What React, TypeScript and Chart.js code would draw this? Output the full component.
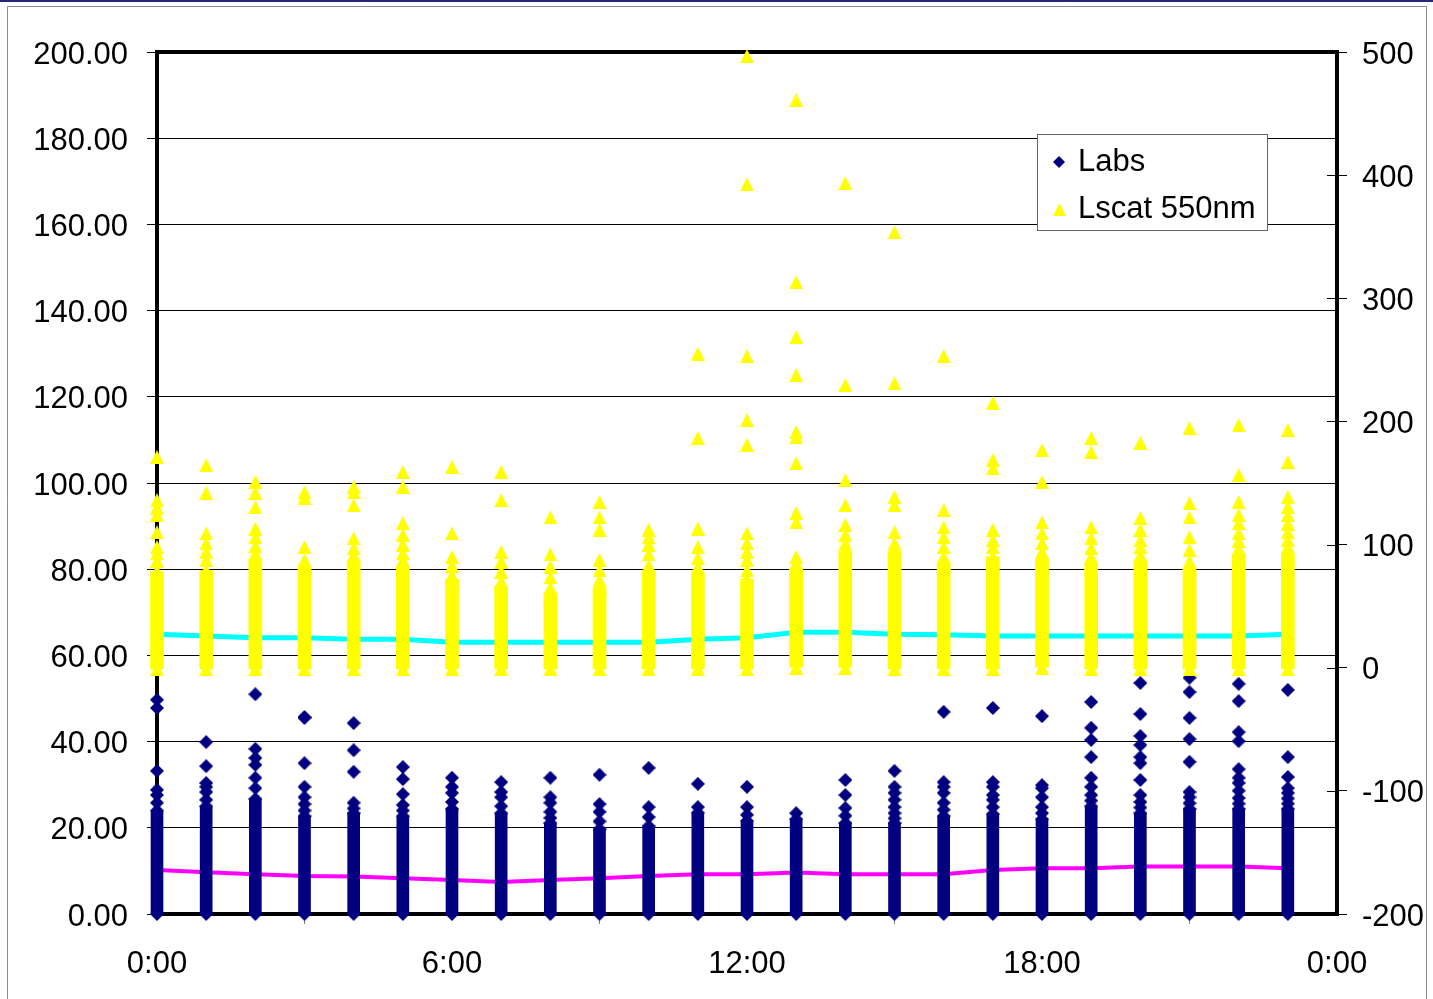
import React, { useEffect, useRef } from 'react';
import { Chart, registerables } from 'chart.js';

Chart.register(...registerables);

// ---------- data ----------
const hours = [0, 1, 2, 3, 4, 5, 6, 7, 8, 9, 10, 11, 12, 13, 14, 15, 16, 17, 18, 19, 20, 21, 22, 23];
const xTickLabels = ['0:00', '6:00', '12:00', '18:00', '0:00'];
const seriesNames = ['Labs', 'Lscat 550nm'];

// Labs (left axis): solid band of overlapping points (bottom/top) + distinct points
const labsBandBottom = [0, 0, 0, 0, 0, 0, 0, 0, 0, 0, 0, 0, 0, 0, 0, 0, 0, 0, 0, 0, 0, 0, 0, 0];
const labsBandTop = [24, 25, 26.7, 22.7, 23.4, 22.7, 24.4, 23.4, 21.1, 19.7, 20.4, 23.5, 21.6, 22, 21.1, 21.1, 22.7, 23.2, 22, 25, 23.4, 24.4, 24.4, 24.4];
const labsPoints = [
  [0, 49.7, 47.8, 33.2, 28.8, 27.6, 25.8, 24],
  [0, 39.9, 34.3, 30.4, 29.5, 28.3, 26.5, 25],
  [0, 51, 38.3, 36.2, 34.6, 31.6, 29.2, 26.7],
  [0, 45.7, 45.5, 35, 29.5, 27.1, 25.5, 24, 22.7],
  [0, 44.3, 38, 33, 25.8, 24.5, 23.4],
  [0, 34.1, 31.3, 27.8, 25.3, 24, 22.7],
  [0, 31.6, 29.5, 28.1, 26, 24.4],
  [0, 30.6, 28.3, 27.1, 25, 23.4],
  [0, 31.6, 27.1, 25.8, 23.7, 22.3, 21.1],
  [0, 32.3, 25.5, 23.7, 21.5, 19.7],
  [0, 33.9, 24.8, 22.5, 20.4],
  [0, 30.2, 24.8, 23.5],
  [0, 29.5, 24.8, 23, 21.6],
  [0, 23.4, 22],
  [0, 31.1, 27.6, 24.6, 22.8, 21.1],
  [0, 33.2, 29.5, 28.1, 26.5, 24.8, 23.4, 22.2, 21.1],
  [0, 46.9, 30.6, 29.5, 28.1, 25.8, 24.2, 22.7],
  [0, 47.8, 30.6, 29.5, 27.6, 26.5, 24.8, 23.2],
  [0, 45.9, 29.9, 29.2, 27.1, 24.8, 23.4, 22],
  [0, 49.2, 43.2, 40.4, 36.4, 31.6, 29.5, 27.6, 26.3, 25],
  [0, 53.6, 46.4, 41.3, 39.2, 36.4, 35, 31.1, 27.6, 26, 24.7, 23.4],
  [0, 54.8, 51.5, 45.5, 40.6, 35.3, 28.3, 27.1, 25.7, 24.4],
  [0, 53.4, 49.4, 42.2, 40.1, 33.6, 31.6, 30.4, 28.6, 26.9, 25.6, 24.4],
  [0, 52, 36.4, 31.8, 29.2, 28.1, 26.8, 25.6, 24.4],
];

// Lscat 550nm (right axis)
const lscatBandBottom = [-1, -1, -1, -1, -1, -1, -1, -1, -1, -1, -1, -1, -1, 0, 0, -1, -1, -1, 0, -1, -1, -1, -1, -1];
const lscatBandTop = [78, 79, 88, 82, 86, 82, 72, 66, 60, 65, 78, 76, 72, 80, 95, 95, 85, 90, 88, 85, 86, 80, 92, 92];
const lscatPoints = [
  [-1, 171, 136, 130, 124, 110, 98, 93, 87, 78],
  [-1, 164.5, 142, 109, 101, 94, 87.5, 79],
  [-1, 151, 142, 130.5, 113, 106, 99, 93, 88],
  [-1, 142.5, 138, 98, 87.5, 82],
  [-1, 147, 142.5, 132, 105, 97, 91.5, 86],
  [-1, 159, 147, 117.5, 108, 100, 93, 87.5, 82],
  [-1, 163, 109, 90, 83, 75, 72],
  [-1, 159, 136, 94, 86, 78, 70, 66],
  [-1, 122, 92, 82, 73.5, 65, 60],
  [-1, 134.5, 122, 112, 87.5, 79, 71, 65],
  [-1, 112, 106, 100, 92, 83, 78],
  [-1, 255, 186.5, 113, 98, 89, 82, 76],
  [-1, 496.6, 392.6, 253, 201, 181, 109, 101, 94, 87.5, 79, 72],
  [0, 461, 313, 268.5, 237.7, 191.4, 187, 166, 125.6, 118, 90, 85, 80],
  [0, 393.5, 229.6, 152.4, 132, 116, 108, 101, 95],
  [-1, 353.6, 231, 138.6, 132, 110, 101, 95],
  [-1, 253, 128, 114, 106, 98, 90, 85],
  [-1, 215, 168.7, 162, 112, 103.7, 98, 90],
  [0, 176.8, 150.8, 118, 109, 101, 94, 88],
  [-1, 186.5, 175, 114, 105, 97, 90, 85],
  [-1, 182.5, 121.6, 112, 103.7, 98, 91.5, 86],
  [-1, 194.7, 133.7, 122, 106, 95.5, 86, 80],
  [-1, 197, 156.5, 134.6, 124, 117.5, 109, 103, 97, 92],
  [-1, 193, 167, 138.6, 130.5, 124, 117, 110, 104, 98, 92],
];

// hourly means
const labsMean = [10.2, 9.7, 9.2, 8.8, 8.7, 8.3, 7.9, 7.4, 7.9, 8.3, 8.8, 9.2, 9.2, 9.6, 9.2, 9.2, 9.2, 10.2, 10.6, 10.6, 11.0, 11.0, 11.0, 10.6];
const lscatMean = [27.1, 25.7, 24.4, 24.4, 23.1, 23.1, 20.6, 20.6, 20.6, 20.6, 20.6, 23.1, 24.4, 28.7, 28.7, 27.1, 26.8, 25.7, 25.7, 25.7, 25.7, 25.7, 25.7, 27.1];

// ---------- styling ----------
const NAVY = '#000080';
const YELLOW = '#FFFF00';
const FONT = '"Liberation Sans", Arial, sans-serif';
const W = 1433;
const H = 999;

function makeDiamond(size: number, color: string) {
  const c = document.createElement('canvas');
  c.width = size;
  c.height = size;
  const g = c.getContext('2d')!;
  g.fillStyle = color;
  g.beginPath();
  g.moveTo(size / 2, 0);
  g.lineTo(size, size / 2);
  g.lineTo(size / 2, size);
  g.lineTo(0, size / 2);
  g.closePath();
  g.fill();
  return c;
}

function makeTriangle(w: number, h: number, color: string) {
  const c = document.createElement('canvas');
  c.width = w;
  c.height = h;
  const g = c.getContext('2d')!;
  g.fillStyle = color;
  g.beginPath();
  g.moveTo(w / 2, 0);
  g.lineTo(w, h);
  g.lineTo(0, h);
  g.closePath();
  g.fill();
  return c;
}

const framePlugin = {
  id: 'framePlugin',
  beforeDraw(chart: any) {
    const ctx = chart.ctx;
    ctx.save();
    ctx.fillStyle = '#ffffff';
    ctx.fillRect(0, 0, W, H);
    ctx.fillStyle = '#26267a';
    ctx.fillRect(0, 0, W, 2);
    ctx.strokeStyle = '#8c8c8c';
    ctx.lineWidth = 1;
    ctx.beginPath();
    ctx.moveTo(7.5, H);
    ctx.lineTo(7.5, 6.5);
    ctx.lineTo(1426.5, 6.5);
    ctx.lineTo(1426.5, H);
    ctx.stroke();
    ctx.restore();
  },
  beforeDatasetsDraw(chart: any) {
    const { ctx, chartArea } = chart;
    ctx.save();
    ctx.strokeStyle = '#000';
    ctx.lineWidth = 4;
    ctx.strokeRect(chartArea.left, chartArea.top, chartArea.right - chartArea.left, chartArea.bottom - chartArea.top);
    const y1 = chart.scales.y1;
    ctx.lineWidth = 1;
    ctx.beginPath();
    y1.ticks.forEach((t: any) => {
      const py = Math.round(y1.getPixelForValue(t.value)) + 0.5;
      ctx.moveTo(chartArea.right - 10, py);
      ctx.lineTo(chartArea.right, py);
    });
    ctx.stroke();
    ctx.restore();
  },
};

function legendPlugin(markers: HTMLCanvasElement[]) {
  return {
    id: 'boxLegend',
    afterDraw(chart: any) {
      const ctx = chart.ctx;
      const x = 1037.5, y = 134.5, w = 230, h = 96;
      ctx.save();
      ctx.fillStyle = '#fff';
      ctx.fillRect(x, y, w, h);
      ctx.strokeStyle = '#666';
      ctx.lineWidth = 1;
      ctx.strokeRect(x, y, w, h);
      const ys = [162, 209];
      markers.forEach((m, i) => {
        ctx.drawImage(m, Math.round(1059 - m.width / 2), Math.round(ys[i] - m.height / 2));
      });
      ctx.fillStyle = '#000';
      ctx.font = `31px ${FONT}`;
      ctx.textBaseline = 'alphabetic';
      ctx.textAlign = 'left';
      ctx.fillText(seriesNames[0], 1078, 171);
      ctx.fillText(seriesNames[1], 1078, 218);
      ctx.restore();
    },
  };
}

export default function App() {
  const ref = useRef<HTMLCanvasElement | null>(null);

  useEffect(() => {
    document.body.style.margin = '0';
    const canvas = ref.current;
    if (!canvas) return;

    const diamond = makeDiamond(14, NAVY);
    const triangle = makeTriangle(14, 14, YELLOW);
    const legendDiamond = makeDiamond(12, NAVY);
    const legendTriangle = makeTriangle(13, 13, YELLOW);

    const labsScatter = hours.flatMap((h, i) => labsPoints[i].map((v) => ({ x: h, y: v })));
    const lscatScatter = hours.flatMap((h, i) => lscatPoints[i].map((v) => ({ x: h, y: v })));
    const labsBand = hours.map((h, i) => ({ x: h, y: [labsBandBottom[i], labsBandTop[i]] }));
    const lscatBand = hours.map((h, i) => ({ x: h, y: [lscatBandBottom[i], lscatBandTop[i]] }));

    const chart = new Chart(canvas, {
      type: 'scatter',
      data: {
        datasets: [
          {
            type: 'line',
            label: 'Labs mean',
            data: hours.map((h, i) => ({ x: h, y: labsMean[i] })),
            yAxisID: 'y',
            borderColor: '#FF00FF',
            borderWidth: 4,
            pointRadius: 0,
            tension: 0,
            fill: false,
            order: 10,
            clip: false,
          } as any,
          {
            type: 'line',
            label: 'Lscat mean',
            data: hours.map((h, i) => ({ x: h, y: lscatMean[i] })),
            yAxisID: 'y1',
            borderColor: '#00FFFF',
            borderWidth: 5,
            pointRadius: 0,
            tension: 0,
            fill: false,
            order: 10,
            clip: false,
          } as any,
          {
            type: 'bar',
            label: 'Labs band',
            data: labsBand,
            yAxisID: 'y',
            backgroundColor: NAVY,
            borderWidth: 0,
            barThickness: 12,
            grouped: false,
            order: 6,
            clip: false,
          } as any,
          {
            type: 'scatter',
            label: seriesNames[0],
            data: labsScatter,
            yAxisID: 'y',
            pointStyle: diamond,
            pointRadius: 7,
            backgroundColor: NAVY,
            borderWidth: 0,
            order: 5,
            clip: false,
          } as any,
          {
            type: 'bar',
            label: 'Lscat band',
            data: lscatBand,
            yAxisID: 'y1',
            backgroundColor: YELLOW,
            borderWidth: 0,
            barThickness: 13,
            grouped: false,
            order: 4,
            clip: false,
          } as any,
          {
            type: 'scatter',
            label: seriesNames[1],
            data: lscatScatter,
            yAxisID: 'y1',
            pointStyle: triangle,
            pointRadius: 7,
            backgroundColor: YELLOW,
            borderWidth: 0,
            order: 3,
            clip: false,
          } as any,
        ],
      },
      options: {
        animation: false,
        responsive: false,
        devicePixelRatio: 1,
        events: [],
        layout: { padding: { top: 52, left: 0, right: 0, bottom: 0 } },
        plugins: {
          legend: { display: false },
          tooltip: { enabled: false },
        },
        scales: {
          x: {
            type: 'linear',
            min: 0,
            max: 24,
            offset: false,
            afterFit: (s: any) => { s.height = H - 914; },
            afterBuildTicks: (s: any) => { s.ticks = [0, 6, 12, 18, 24].map((v) => ({ value: v })); },
            ticks: {
              stepSize: 6,
              callback: (v: any) => xTickLabels[Math.round(Number(v) / 6)],
              color: '#000',
              font: { family: FONT, size: 31 },
              padding: 22,
              maxRotation: 0,
              autoSkip: false,
            },
            grid: { display: true, drawOnChartArea: false, drawTicks: true, tickLength: 10, color: '#808080', lineWidth: 1 },
            border: { display: false },
          },
          y: {
            type: 'linear',
            position: 'left',
            min: 0,
            max: 200,
            afterFit: (s: any) => { s.width = 157; },
            ticks: {
              stepSize: 20,
              callback: (v: any) => Number(v).toFixed(2),
              color: '#000',
              font: { family: FONT, size: 31 },
              padding: 19,
              labelOffset: 3,
            },
            grid: { color: '#000', lineWidth: 1, drawTicks: true, tickLength: 10 },
            border: { display: false },
          },
          y1: {
            type: 'linear',
            position: 'right',
            min: -200,
            max: 500,
            afterFit: (s: any) => { s.width = W - 1337; },
            ticks: {
              stepSize: 100,
              callback: (v: any) => String(v),
              color: '#000',
              font: { family: FONT, size: 31 },
              padding: 15,
              labelOffset: 3,
            },
            grid: { display: true, drawOnChartArea: false, drawTicks: true, tickLength: 10, color: '#000', lineWidth: 1 },
            border: { display: false },
          },
        },
      } as any,
      plugins: [framePlugin, legendPlugin([legendDiamond, legendTriangle])],
    });

    return () => chart.destroy();
  }, []);

  return (
    <div style={{ width: W, height: H, position: 'relative' }}>
      <canvas ref={ref} width={W} height={H} style={{ display: 'block', width: W, height: H }} />
    </div>
  );
}
